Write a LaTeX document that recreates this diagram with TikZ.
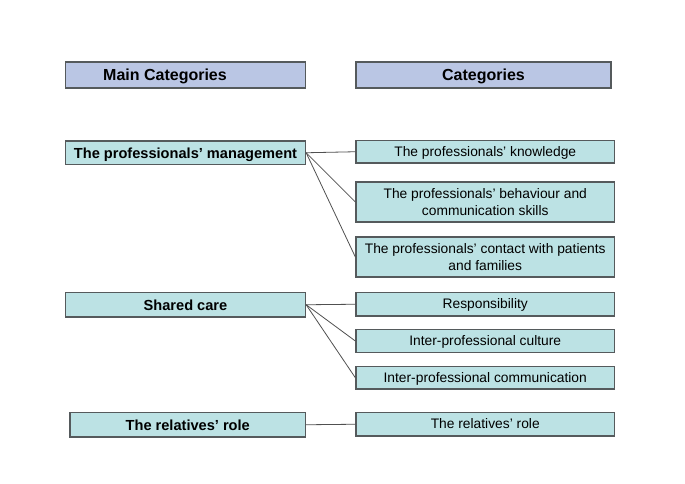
\documentclass[tikz,border=0pt]{standalone}
\usepackage{fontspec}
\setmainfont{Liberation Sans}
\definecolor{hdrfill}{RGB}{186,198,228}
\definecolor{catfill}{RGB}{188,226,228}
\definecolor{edge}{RGB}{85,90,92}
\definecolor{conn}{RGB}{80,80,80}
\tikzset{
  box/.style={draw=edge, line width=1.3pt, rectangle, inner sep=0pt, align=center},
  hdr/.style={box, fill=hdrfill, font=\fontsize{16}{19}\selectfont\bfseries, text height=11.5pt, text depth=0pt},
  maincat/.style={box, fill=catfill, font=\fontsize{14.6}{17}\selectfont\bfseries, text height=10.6pt, text depth=0pt},
  subcat/.style={box, fill=catfill, font=\fontsize{13.8}{17}\selectfont, text height=10pt, text depth=1.2pt},
  twoline/.style={box, fill=catfill, font=\fontsize{13.8}{17}\selectfont},
  link/.style={draw=conn, line width=0.8pt}
}
\begin{document}
\begin{tikzpicture}[x=1pt,y=-1pt]
\useasboundingbox (0,0) rectangle (685,484);
% headers
\node[hdr, minimum width=240pt, minimum height=26pt] (mainhdr) at (185.5,75) {Main Categories\hspace*{41pt}};
\node[hdr, minimum width=255pt, minimum height=26pt] (cathdr) at (483.5,75) {Categories};
% main categories
\node[maincat, minimum width=240pt, minimum height=23.5pt] (mgmt) at (185.5,152.75) {The professionals’ management};
\node[maincat, minimum width=240pt, minimum height=24.5pt] (shared) at (185.5,304.75) {Shared care};
\node[maincat, minimum width=235.5pt, minimum height=24.5pt] (relL) at (187.75,424.75) {The relatives’ role};
% categories
\node[subcat, minimum width=258.5pt, minimum height=22.5pt] (know) at (485.25,151.75) {The professionals’ knowledge};
\node[twoline, minimum width=258.5pt, minimum height=40pt] (behav) at (485.25,202) {The professionals’ behaviour and\\communication skills};
\node[twoline, minimum width=258.5pt, minimum height=40pt] (contact) at (485.25,257) {The professionals’ contact with patients\\and families};
\node[subcat, minimum width=258.5pt, minimum height=23.5pt] (resp) at (485.25,304.25) {Responsibility};
\node[subcat, minimum width=258.5pt, minimum height=23pt] (cult) at (485.25,341) {Inter-professional culture};
\node[subcat, minimum width=258.5pt, minimum height=22.5pt] (comm) at (485.25,377.75) {Inter-professional communication};
\node[subcat, minimum width=258.5pt, minimum height=23.5pt] (relR) at (485.25,424.25) {The relatives’ role};
% connectors
\draw[link] (mgmt.east) -- (know.west);
\draw[link] (mgmt.east) -- (behav.west);
\draw[link] (mgmt.east) -- (contact.west);
\draw[link] (shared.east) -- (resp.west);
\draw[link] (shared.east) -- (cult.west);
\draw[link] (shared.east) -- (comm.west);
\draw[link] (relL.east) -- (relR.west);
\end{tikzpicture}
\end{document}
